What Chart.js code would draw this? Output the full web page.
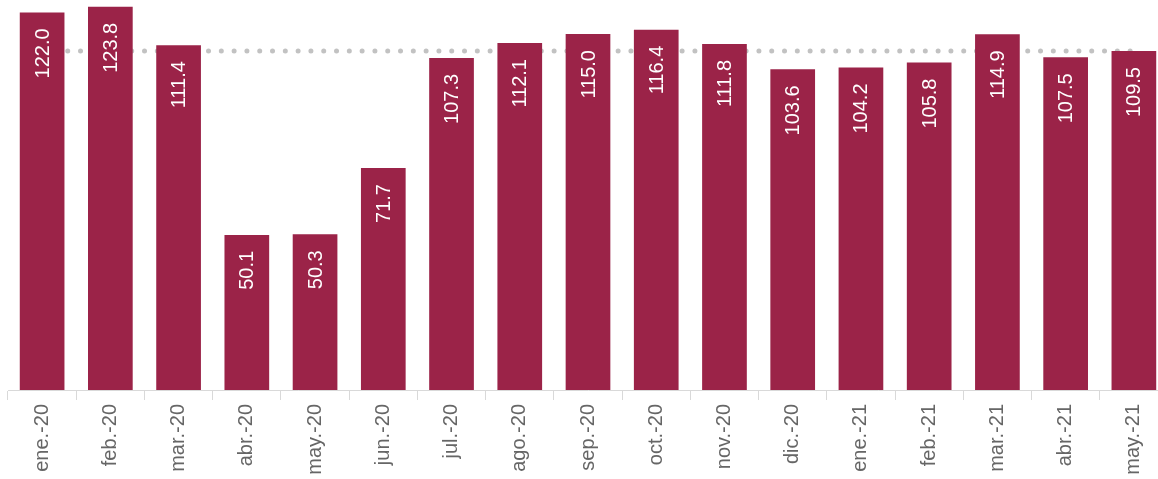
<!DOCTYPE html>
<html>
<head>
<meta charset="utf-8">
<script src="https://cdn.jsdelivr.net/npm/chart.js@4/dist/chart.umd.min.js"></script>
<style>
  html, body { margin: 0; padding: 0; background: #fff; overflow: hidden; }
  #wrap { width: 1158px; height: 479px; overflow: hidden; }
  #chart { display: block; }
</style>
</head>
<body>
<div id="wrap">
  <canvas id="chart" width="1168" height="479"></canvas>
</div>
<script>
  'use strict';

  const categories = ['ene.-20', 'feb.-20', 'mar.-20', 'abr.-20', 'may.-20', 'jun.-20', 'jul.-20', 'ago.-20',
    'sep.-20', 'oct.-20', 'nov.-20', 'dic.-20', 'ene.-21', 'feb.-21', 'mar.-21', 'abr.-21', 'may.-21'];
  const values = [122.0, 123.8, 111.4, 50.1, 50.3, 71.7, 107.3, 112.1, 115.0, 116.4, 111.8, 103.6, 104.2, 105.8, 114.9, 107.5, 109.5];
  // dotted reference level (sits at the last month's value)
  const referenceLine = [109.5, 109.5, 109.5, 109.5, 109.5, 109.5, 109.5, 109.5, 109.5,
    109.5, 109.5, 109.5, 109.5, 109.5, 109.5, 109.5, 109.5];

  const barColor = '#9b2348';
  const axisGrey = '#d9d9d9';
  const fontFamily = '"Liberation Sans", Arial, sans-serif';

  // labels written vertically inside the top of each bar
  const barLabels = {
    id: 'barLabels',
    afterDatasetsDraw(chart) {
      const ctx = chart.ctx;
      const meta = chart.getDatasetMeta(0);
      meta.data.forEach(function (bar, i) {
        ctx.save();
        ctx.translate(bar.x + 1, bar.y + 16);
        ctx.rotate(-Math.PI / 2);
        ctx.textAlign = 'right';
        ctx.textBaseline = 'middle';
        ctx.fillStyle = '#ffffff';
        ctx.font = '20px ' + fontFamily;
        ctx.fillText(values[i].toFixed(1), 0, 0);
        ctx.restore();
      });
    }
  };

  new Chart(document.getElementById('chart'), {
    type: 'bar',
    data: {
      labels: categories,
      datasets: [
        {
          data: values,
          backgroundColor: barColor,
          borderWidth: 0,
          barPercentage: 0.655,
          categoryPercentage: 1,
          order: 1
        },
        {
          type: 'line',
          data: referenceLine,
          borderColor: '#c2c2c2',
          borderWidth: 5,
          borderDash: [0, 12.8],
          borderCapStyle: 'round',
          pointRadius: 0,
          fill: false,
          order: 2
        }
      ]
    },
    options: {
      responsive: false,
      animation: false,
      layout: {
        padding: { left: 8, right: 0, top: 0, bottom: 0 }
      },
      scales: {
        x: {
          offset: true,
          grid: {
            offset: true,
            drawOnChartArea: false,
            tickLength: 10,
            color: axisGrey
          },
          border: {
            display: true,
            color: axisGrey
          },
          ticks: {
            autoSkip: false,
            minRotation: 90,
            maxRotation: 90,
            padding: 4,
            color: '#666666',
            font: { family: fontFamily, size: 20 }
          },
          afterFit: function (scale) {
            scale.height = 89;
          }
        },
        y: {
          display: false,
          min: 0,
          max: 126
        }
      },
      plugins: {
        legend: { display: false },
        tooltip: { enabled: false }
      }
    },
    plugins: [barLabels]
  });
</script>
</body>
</html>
